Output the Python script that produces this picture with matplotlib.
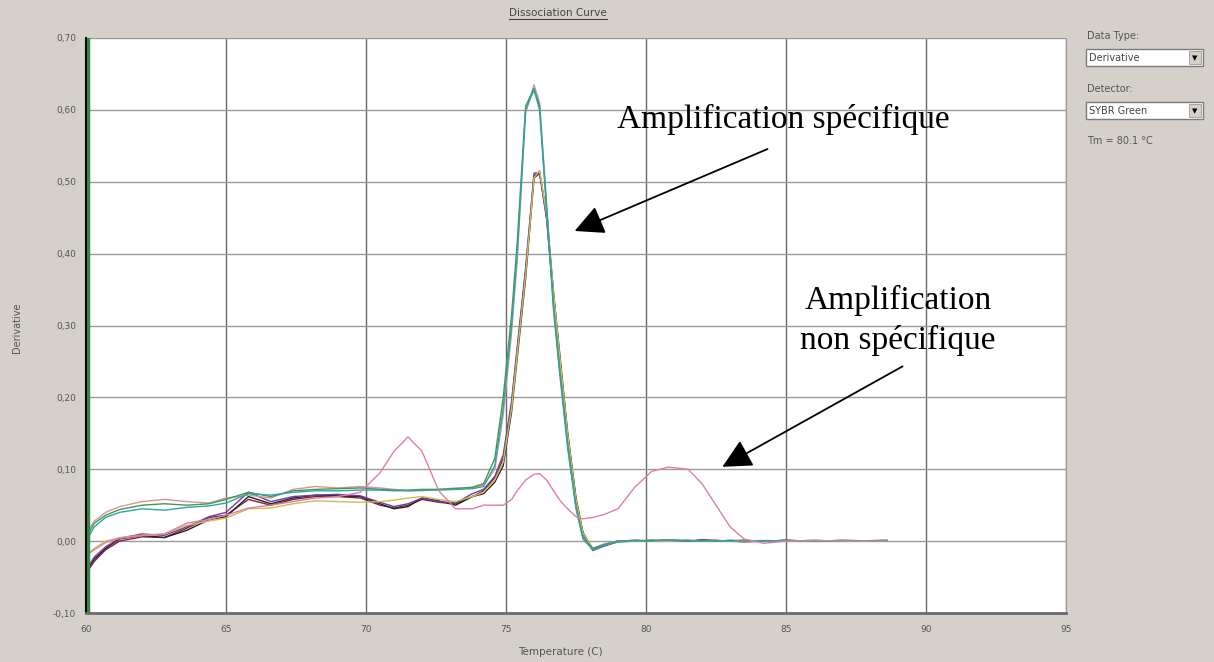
import matplotlib.pyplot as plt
from matplotlib.patches import Rectangle
from matplotlib.lines import Line2D

# temperature grid shared by every well (deg C)
temps = [60.0, 60.3, 60.7, 61.2, 62.0, 62.8, 63.6, 64.4, 65.0,
         65.8, 66.6, 67.4, 68.2, 69.0, 69.8,
         70.5, 71.0, 71.5, 72.0, 72.6, 73.2, 73.8,
         74.2, 74.6, 74.9, 75.2, 75.4, 75.7, 76.0, 76.2,
         76.45, 76.7, 76.9, 77.2, 77.5, 77.75, 78.1, 78.5,
         79.0, 79.6, 80.2, 80.8, 81.5, 82.0, 82.5, 83.0, 83.5, 84.2, 85.0, 86.0, 87.0, 88.6]

# derivative values, one list per well
teal = [0.000, 0.020, 0.033, 0.040, 0.045, 0.043, 0.047, 0.049, 0.053,
        0.066, 0.064, 0.068, 0.070, 0.070, 0.071,
        0.071, 0.070, 0.070, 0.071, 0.071, 0.072, 0.073,
        0.076, 0.105, 0.185, 0.300, 0.400, 0.600, 0.628, 0.600,
        0.460, 0.320, 0.240, 0.130, 0.045, 0.003, -0.012, -0.006,
        -0.001, 0.001, 0.000, 0.002, 0.001, 0.000, 0.001, 0.000, 0.001, 0.000, 0.001, 0.000, 0.001, 0.000]

green = [0.005, 0.025, 0.036, 0.044, 0.050, 0.052, 0.050, 0.052, 0.058,
         0.068, 0.062, 0.070, 0.072, 0.073, 0.074,
         0.072, 0.071, 0.071, 0.072, 0.072, 0.073, 0.075,
         0.080, 0.115, 0.200, 0.315, 0.415, 0.605, 0.630, 0.605,
         0.465, 0.325, 0.245, 0.135, 0.048, 0.004, -0.010, -0.005,
         0.000, 0.001, 0.001, 0.002, 0.000, 0.001, 0.000, 0.001, 0.001, 0.000, 0.001, 0.000, 0.000, 0.001]

salmon = [0.010, 0.028, 0.040, 0.048, 0.055, 0.058, 0.055, 0.053, 0.060,
          0.064, 0.060, 0.072, 0.076, 0.074, 0.076,
          0.074, 0.072, 0.070, 0.070, 0.072, 0.074, 0.074,
          0.078, 0.100, 0.175, 0.290, 0.390, 0.595, 0.635, 0.610,
          0.470, 0.330, 0.250, 0.138, 0.050, 0.005, -0.011, -0.004,
          0.000, 0.000, 0.001, 0.000, 0.001, 0.000, 0.001, 0.000, 0.000, 0.001, 0.000, 0.001, 0.000, 0.000]

darkred = [-0.045, -0.028, -0.012, 0.000, 0.006, 0.005, 0.018, 0.033, 0.036,
           0.058, 0.050, 0.058, 0.062, 0.062, 0.060,
           0.050, 0.046, 0.050, 0.058, 0.054, 0.052, 0.062,
           0.070, 0.088, 0.115, 0.190, 0.265, 0.375, 0.508, 0.514,
           0.450, 0.340, 0.262, 0.148, 0.057, 0.010, -0.012, -0.006,
           0.000, 0.001, 0.000, 0.001, 0.000, 0.002, 0.001, 0.000, -0.001, 0.000, 0.001, 0.000, 0.001, 0.000]

black = [-0.042, -0.025, -0.010, 0.003, 0.008, 0.005, 0.015, 0.030, 0.034,
         0.062, 0.052, 0.060, 0.064, 0.063, 0.062,
         0.052, 0.045, 0.048, 0.060, 0.056, 0.050, 0.062,
         0.066, 0.082, 0.105, 0.180, 0.255, 0.365, 0.505, 0.512,
         0.455, 0.345, 0.268, 0.152, 0.060, 0.012, -0.011, -0.005,
         0.000, 0.000, 0.001, 0.000, 0.001, 0.000, 0.000, 0.001, 0.000, 0.000, 0.001, 0.000, 0.000, 0.001]

purple = [-0.040, -0.022, -0.008, 0.004, 0.010, 0.008, 0.020, 0.034, 0.040,
          0.068, 0.055, 0.062, 0.064, 0.065, 0.063,
          0.054, 0.048, 0.052, 0.060, 0.055, 0.053, 0.066,
          0.072, 0.090, 0.120, 0.195, 0.270, 0.380, 0.512, 0.512,
          0.448, 0.335, 0.258, 0.142, 0.052, 0.008, -0.013, -0.007,
          -0.001, 0.000, 0.001, 0.000, 0.000, 0.001, 0.000, 0.000, 0.001, 0.000, 0.000, 0.001, 0.000, 0.000]

olive = [-0.020, -0.010, 0.000, 0.005, 0.008, 0.010, 0.022, 0.028, 0.032,
         0.045, 0.046, 0.052, 0.056, 0.055, 0.054,
         0.055, 0.057, 0.060, 0.062, 0.058, 0.055, 0.062,
         0.068, 0.085, 0.110, 0.185, 0.260, 0.370, 0.505, 0.516,
         0.455, 0.345, 0.265, 0.150, 0.058, 0.011, -0.010, -0.004,
         0.000, 0.001, 0.000, 0.000, 0.001, 0.000, 0.000, 0.000, 0.001, 0.000, 0.000, 0.000, 0.001, 0.000]

# the well with the extra (non specific) peaks
pink = [-0.020, -0.012, -0.002, 0.004, 0.008, 0.010, 0.025, 0.030, 0.036,
        0.046, 0.050, 0.055, 0.060, 0.062, 0.068,
        0.095, 0.125, 0.145, 0.125, 0.070, 0.045, 0.045,
        0.050, 0.050, 0.050, 0.058, 0.070, 0.085, 0.093, 0.094,
        0.085, 0.070, 0.058, 0.045, 0.034, 0.031, 0.033, 0.037,
        0.045, 0.075, 0.097, 0.103, 0.100, 0.080, 0.050, 0.020, 0.003, -0.003, 0.000, 0.001, 0.000, 0.000]

wells = [darkred, black, purple, olive, salmon, green, teal, pink]
well_colors = ['#8c1d40', '#222222', '#6b3fa0', '#c9bf55', '#d9949a', '#3f9a4c', '#2fa3a8', '#e07fa3']

x_ticks = [60, 65, 70, 75, 80, 85, 90, 95]
y_ticks = [-0.10, 0.00, 0.10, 0.20, 0.30, 0.40, 0.50, 0.60, 0.70]
y_tick_labels = ['-0,10', '0,00', '0,10', '0,20', '0,30', '0,40', '0,50', '0,60', '0,70']

W, H = 1214, 662
bg = '#d6d0ca'


#pixel position -> figure fraction
def fx(px):
    return px / W


def fy(py):
    return 1 - py / H


fig = plt.figure(figsize=(W / 100, H / 100), dpi=100, facecolor=bg)
ax = fig.add_axes([fx(86), fy(613), (1066 - 86) / W, (613 - 38) / H])
ax.set_facecolor('white')

for vals, col in zip(wells, well_colors):
    ax.plot(temps, vals, color=col, lw=1.0)

# green trace hugging the y axis
ax.axvline(60.08, color='#2e8b3a', lw=2.5)

ax.set_xlim(60, 95)
ax.set_ylim(-0.10, 0.70)
ax.set_xticks(x_ticks)
ax.set_xticklabels([str(t) for t in x_ticks])
ax.set_yticks(y_ticks)
ax.set_yticklabels(y_tick_labels)
ax.tick_params(length=0, labelsize=6.5, labelcolor='#555555')
ax.tick_params(axis='x', pad=9)
ax.tick_params(axis='y', pad=7)
ax.set_axisbelow(True)
ax.grid(axis='x', color='#6a6a6a', lw=1)
ax.grid(axis='y', color='#9a9a9a', lw=1)

ax.spines['top'].set_visible(False)
ax.spines['left'].set_color('black')
ax.spines['left'].set_linewidth(1.5)
ax.spines['bottom'].set_color('#6a6a6a')
ax.spines['bottom'].set_linewidth(2)
ax.spines['right'].set_color('#9a9a9a')

# annotations
arrow = dict(arrowstyle='-|>,head_length=0.6,head_width=0.3', color='black', lw=1.3, mutation_scale=30)
ax.text(84.9, 0.586, 'Amplification spécifique', fontsize=24, family='Liberation Serif',
        ha='center', va='center')
ax.annotate('', xy=(77.36, 0.43), xytext=(84.43, 0.547), arrowprops=arrow)
ax.text(89.0, 0.307, 'Amplification\nnon spécifique', fontsize=24, family='Liberation Serif',
        ha='center', va='center', multialignment='center', linespacing=1.35)
ax.annotate('', xy=(82.64, 0.1015), xytext=(89.25, 0.245), arrowprops=arrow)

# title, underlined
fig.text(fx(558), fy(13), 'Dissociation Curve', fontsize=7.5, color='#444444', ha='center', va='center')
fig.add_artist(Line2D([fx(509), fx(607)], [fy(19), fy(19)], color='#444444', lw=0.8, transform=fig.transFigure))

fig.text(fx(17), fy(328), 'Derivative', fontsize=7, color='#555555', rotation=90, ha='center', va='center')
fig.text(fx(560), fy(652), 'Temperature (C)', fontsize=7.5, color='#555555', ha='center', va='center')


# right side panel with the two drop-down boxes
def dropdown(top, label):
    fig.add_artist(Rectangle((fx(1086), fy(top + 17)), 117 / W, 17 / H, transform=fig.transFigure,
                             facecolor='white', edgecolor='#7a7a7a', lw=1))
    fig.add_artist(Rectangle((fx(1189), fy(top + 15)), 12 / W, 13 / H, transform=fig.transFigure,
                             facecolor=bg, edgecolor='#9a9a9a', lw=0.6))
    fig.text(fx(1195), fy(top + 9), '\u25bc', fontsize=5, ha='center', va='center', color='black')
    fig.text(fx(1089), fy(top + 9), label, fontsize=7, color='#444444', va='center')


fig.text(fx(1087), fy(36), 'Data Type:', fontsize=7, color='#555555', va='center')
dropdown(49, 'Derivative')
fig.text(fx(1087), fy(89), 'Detector:', fontsize=7, color='#555555', va='center')
dropdown(102, 'SYBR Green')
fig.text(fx(1087), fy(141), 'Tm = 80.1 \u00b0C', fontsize=7, color='#555555', va='center')

plt.savefig('out.png', dpi=100, facecolor=bg)
